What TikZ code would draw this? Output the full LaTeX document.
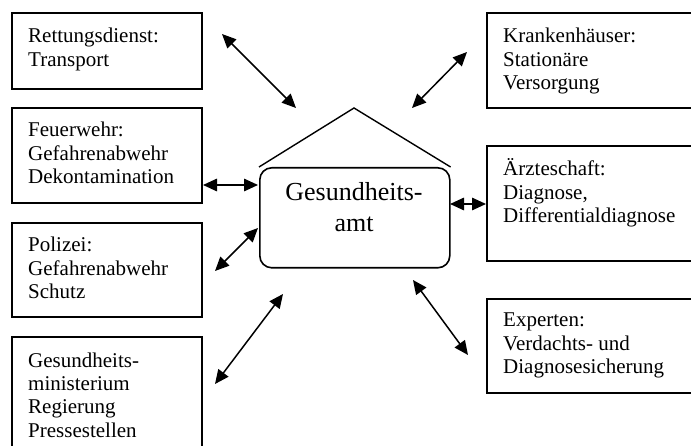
\documentclass[tikz,border=0pt]{standalone}
\usepackage{fontspec}
\setmainfont{Liberation Serif}
\usetikzlibrary{arrows.meta}
\newcommand\lefttext[1]{\begin{tabular}[t]{@{}l@{}}#1\end{tabular}}
\newcommand\centertext[1]{\begin{tabular}[t]{@{}c@{}}#1\end{tabular}}
\begin{document}
\begin{tikzpicture}[x=1pt,y=-1pt,
  frame/.style={draw, line width=1.9pt, inner sep=0pt, outer sep=0pt, anchor=north west, minimum width=#1},
  frame/.default=190pt,
  boxlabel/.style={inner sep=0pt, anchor=base west, font=\fontsize{21}{23.5}\selectfont},
  link/.style={line width=1.5pt, {Triangle[length=14pt,width=12.5pt]}-{Triangle[length=14pt,width=12.5pt]}}]
\useasboundingbox (0,0) rectangle (691,446);
\clip (0,0) rectangle (691,446);
\fill[white] (0,0) rectangle (691,446);

% frames
\node[frame, minimum height=76pt] (rett) at (12,13) {};
\node[frame, minimum height=95pt] (feuer) at (12,108) {};
\node[frame, minimum height=94pt] (poli) at (12,223) {};
\node[frame, minimum height=130pt] (mini) at (12,337) {};
\node[frame=220pt, minimum height=95pt] (kh) at (487,13) {};
\node[frame=220pt, minimum height=115pt] (aerz) at (487,146) {};
\node[frame=220pt, minimum height=94pt] (expt) at (487,299) {};

% texts
\node[boxlabel] (retttext) at (28,43) {\lefttext{Rettungsdienst:\\Transport}};
\node[boxlabel] (feuertext) at (28,137) {\lefttext{Feuerwehr:\\Gefahrenabwehr\\Dekontamination}};
\node[boxlabel] (politext) at (28,252) {\lefttext{Polizei:\\Gefahrenabwehr\\Schutz}};
\node[boxlabel] (minitext) at (28,367) {\lefttext{Gesundheits-\\ministerium\\Regierung\\Pressestellen}};
\node[boxlabel] (khtext) at (503,43) {\lefttext{Krankenhäuser:\\Stationäre\\Versorgung}};
\node[boxlabel] (aerztext) at (503,176) {\lefttext{Ärzteschaft:\\Diagnose,\\Differentialdiagnose}};
\node[boxlabel] (expttext) at (503,327) {\lefttext{Experten:\\Verdachts- und\\Diagnosesicherung}};

% central office
\node[draw, rounded corners=12pt, line width=1.6pt, inner sep=0pt, anchor=north west,
      minimum width=190pt, minimum height=100pt] (amt) at (259,167) {};
\node[inner sep=0pt, anchor=base, font=\fontsize{26}{31}\selectfont] (amttext) at (354,201)
  {\centertext{Gesundheits-\\amt}};
\coordinate (apex) at (354,108);
\draw[line width=1.4pt] (amt.north west) -- (apex) -- (amt.north east);

% arrow ends
\coordinate (r1) at (222,34);  \coordinate (r2) at (296,108);
\coordinate (f1) at (203,185); \coordinate (f2) at (258,185);
\coordinate (p1) at (215,271); \coordinate (p2) at (258,228);
\coordinate (m1) at (215,384); \coordinate (m2) at (283,294);
\coordinate (k1) at (467,52);  \coordinate (k2) at (412,108);
\coordinate (a1) at (450,204); \coordinate (a2) at (486,204);
\coordinate (e1) at (413,280); \coordinate (e2) at (468,355);

\draw[link] (r1) -- (r2);
\draw[link] (f1) -- (f2);
\draw[link] (p1) -- (p2);
\draw[link] (m1) -- (m2);
\draw[link] (k1) -- (k2);
\draw[link] (a1) -- (a2);
\draw[link] (e1) -- (e2);
\end{tikzpicture}
\end{document}
